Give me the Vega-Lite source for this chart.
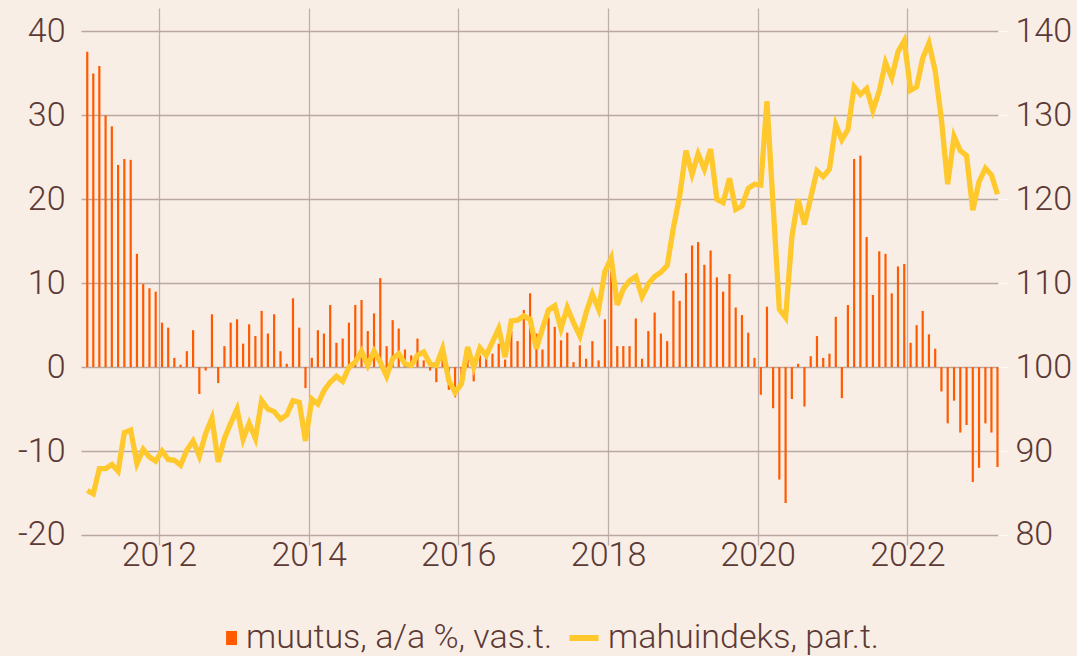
{
  "$schema": "https://vega.github.io/schema/vega-lite/v6.json",
  "width": 917,
  "height": 537,
  "autosize": {"type": "none"},
  "padding": {"left": 81, "top": 8, "right": 79, "bottom": 111},
  "background": "#f9eee5",
  "config": {
    "view": {"stroke": null},
    "font": "Roboto",
    "axis": {
      "labelFont": "Roboto",
      "labelFontWeight": 300,
      "labelFontSize": 34,
      "labelColor": "#5c3a36",
      "domain": false,
      "ticks": false,
      "title": null,
      "gridColor": "#b9a8a2",
      "gridWidth": 1.3,
      "gridOpacity": 1
    }
  },
  "data": {
    "values": [
      {"date": "2011-01", "muutus": 37.6, "mahuindeks": 85.3},
      {"date": "2011-02", "muutus": 35.0, "mahuindeks": 84.9},
      {"date": "2011-03", "muutus": 35.9, "mahuindeks": 87.9},
      {"date": "2011-04", "muutus": 30.0, "mahuindeks": 87.9},
      {"date": "2011-05", "muutus": 28.7, "mahuindeks": 88.4},
      {"date": "2011-06", "muutus": 24.1, "mahuindeks": 87.6},
      {"date": "2011-07", "muutus": 24.8, "mahuindeks": 92.2},
      {"date": "2011-08", "muutus": 24.7, "mahuindeks": 92.5},
      {"date": "2011-09", "muutus": 13.5, "mahuindeks": 88.5},
      {"date": "2011-10", "muutus": 9.9, "mahuindeks": 90.2},
      {"date": "2011-11", "muutus": 9.4, "mahuindeks": 89.3},
      {"date": "2011-12", "muutus": 9.0, "mahuindeks": 88.8},
      {"date": "2012-01", "muutus": 5.3, "mahuindeks": 90.0},
      {"date": "2012-02", "muutus": 4.7, "mahuindeks": 89.0},
      {"date": "2012-03", "muutus": 1.1, "mahuindeks": 88.9},
      {"date": "2012-04", "muutus": 0.3, "mahuindeks": 88.3},
      {"date": "2012-05", "muutus": 1.9, "mahuindeks": 90.1},
      {"date": "2012-06", "muutus": 4.4, "mahuindeks": 91.2},
      {"date": "2012-07", "muutus": -3.2, "mahuindeks": 89.4},
      {"date": "2012-08", "muutus": -0.4, "mahuindeks": 92.1},
      {"date": "2012-09", "muutus": 6.3, "mahuindeks": 93.9},
      {"date": "2012-10", "muutus": -1.9, "mahuindeks": 88.7},
      {"date": "2012-11", "muutus": 2.5, "mahuindeks": 91.5},
      {"date": "2012-12", "muutus": 5.3, "mahuindeks": 93.3},
      {"date": "2013-01", "muutus": 5.7, "mahuindeks": 95.0},
      {"date": "2013-02", "muutus": 2.8, "mahuindeks": 91.4},
      {"date": "2013-03", "muutus": 5.1, "mahuindeks": 93.3},
      {"date": "2013-04", "muutus": 3.7, "mahuindeks": 91.5},
      {"date": "2013-05", "muutus": 6.7, "mahuindeks": 96.0},
      {"date": "2013-06", "muutus": 4.0, "mahuindeks": 95.0},
      {"date": "2013-07", "muutus": 6.3, "mahuindeks": 94.7},
      {"date": "2013-08", "muutus": 1.9, "mahuindeks": 93.8},
      {"date": "2013-09", "muutus": 0.4, "mahuindeks": 94.3},
      {"date": "2013-10", "muutus": 8.2, "mahuindeks": 96.0},
      {"date": "2013-11", "muutus": 4.7, "mahuindeks": 95.8},
      {"date": "2013-12", "muutus": -2.5, "mahuindeks": 91.2},
      {"date": "2014-01", "muutus": 1.1, "mahuindeks": 96.2},
      {"date": "2014-02", "muutus": 4.4, "mahuindeks": 95.6},
      {"date": "2014-03", "muutus": 4.0, "mahuindeks": 97.2},
      {"date": "2014-04", "muutus": 7.4, "mahuindeks": 98.2},
      {"date": "2014-05", "muutus": 2.9, "mahuindeks": 98.9},
      {"date": "2014-06", "muutus": 3.4, "mahuindeks": 98.3},
      {"date": "2014-07", "muutus": 5.3, "mahuindeks": 100.0},
      {"date": "2014-08", "muutus": 7.4, "mahuindeks": 100.6},
      {"date": "2014-09", "muutus": 8.0, "mahuindeks": 101.9},
      {"date": "2014-10", "muutus": 4.3, "mahuindeks": 100.2},
      {"date": "2014-11", "muutus": 6.4, "mahuindeks": 101.9},
      {"date": "2014-12", "muutus": 10.6, "mahuindeks": 100.6},
      {"date": "2015-01", "muutus": 2.5, "mahuindeks": 98.9},
      {"date": "2015-02", "muutus": 5.6, "mahuindeks": 101.0},
      {"date": "2015-03", "muutus": 4.6, "mahuindeks": 101.6},
      {"date": "2015-04", "muutus": 2.1, "mahuindeks": 100.4},
      {"date": "2015-05", "muutus": 1.4, "mahuindeks": 100.2},
      {"date": "2015-06", "muutus": 3.4, "mahuindeks": 101.4},
      {"date": "2015-07", "muutus": 0.8, "mahuindeks": 101.8},
      {"date": "2015-08", "muutus": -0.4, "mahuindeks": 100.4},
      {"date": "2015-09", "muutus": -1.8, "mahuindeks": 100.2},
      {"date": "2015-10", "muutus": 1.2, "mahuindeks": 102.2},
      {"date": "2015-11", "muutus": -2.7, "mahuindeks": 98.4},
      {"date": "2015-12", "muutus": -3.6, "mahuindeks": 97.0},
      {"date": "2016-01", "muutus": -1.0, "mahuindeks": 98.0},
      {"date": "2016-02", "muutus": 2.0, "mahuindeks": 102.4},
      {"date": "2016-03", "muutus": -1.7, "mahuindeks": 100.0},
      {"date": "2016-04", "muutus": 1.4, "mahuindeks": 102.3},
      {"date": "2016-05", "muutus": 1.2, "mahuindeks": 101.4},
      {"date": "2016-06", "muutus": 1.6, "mahuindeks": 103.0},
      {"date": "2016-07", "muutus": 2.8, "mahuindeks": 104.6},
      {"date": "2016-08", "muutus": 0.9, "mahuindeks": 101.2},
      {"date": "2016-09", "muutus": 4.3, "mahuindeks": 105.5},
      {"date": "2016-10", "muutus": 3.1, "mahuindeks": 105.6},
      {"date": "2016-11", "muutus": 6.8, "mahuindeks": 106.1},
      {"date": "2016-12", "muutus": 8.8, "mahuindeks": 105.7},
      {"date": "2017-01", "muutus": 4.0, "mahuindeks": 102.2},
      {"date": "2017-02", "muutus": 2.1, "mahuindeks": 104.6},
      {"date": "2017-03", "muutus": 5.9, "mahuindeks": 106.8},
      {"date": "2017-04", "muutus": 4.8, "mahuindeks": 107.3},
      {"date": "2017-05", "muutus": 3.2, "mahuindeks": 104.6},
      {"date": "2017-06", "muutus": 4.1, "mahuindeks": 107.1},
      {"date": "2017-07", "muutus": 0.6, "mahuindeks": 105.3},
      {"date": "2017-08", "muutus": 2.6, "mahuindeks": 103.7},
      {"date": "2017-09", "muutus": 1.0, "mahuindeks": 106.5},
      {"date": "2017-10", "muutus": 3.1, "mahuindeks": 108.7},
      {"date": "2017-11", "muutus": 0.8, "mahuindeks": 106.9},
      {"date": "2017-12", "muutus": 5.7, "mahuindeks": 111.4},
      {"date": "2018-01", "muutus": 11.5, "mahuindeks": 113.0},
      {"date": "2018-02", "muutus": 2.5, "mahuindeks": 107.4},
      {"date": "2018-03", "muutus": 2.5, "mahuindeks": 109.3},
      {"date": "2018-04", "muutus": 2.5, "mahuindeks": 110.3},
      {"date": "2018-05", "muutus": 5.8, "mahuindeks": 110.8},
      {"date": "2018-06", "muutus": 1.0, "mahuindeks": 108.4},
      {"date": "2018-07", "muutus": 4.3, "mahuindeks": 109.9},
      {"date": "2018-08", "muutus": 6.5, "mahuindeks": 110.8},
      {"date": "2018-09", "muutus": 4.0, "mahuindeks": 111.3},
      {"date": "2018-10", "muutus": 3.1, "mahuindeks": 112.1},
      {"date": "2018-11", "muutus": 9.1, "mahuindeks": 116.6},
      {"date": "2018-12", "muutus": 7.9, "mahuindeks": 120.4},
      {"date": "2019-01", "muutus": 11.2, "mahuindeks": 125.8},
      {"date": "2019-02", "muutus": 14.5, "mahuindeks": 123.0},
      {"date": "2019-03", "muutus": 14.9, "mahuindeks": 125.4},
      {"date": "2019-04", "muutus": 12.2, "mahuindeks": 123.6},
      {"date": "2019-05", "muutus": 13.9, "mahuindeks": 126.0},
      {"date": "2019-06", "muutus": 10.7, "mahuindeks": 120.0},
      {"date": "2019-07", "muutus": 9.0, "mahuindeks": 119.6},
      {"date": "2019-08", "muutus": 11.1, "mahuindeks": 122.5},
      {"date": "2019-09", "muutus": 7.1, "mahuindeks": 118.8},
      {"date": "2019-10", "muutus": 6.2, "mahuindeks": 119.2},
      {"date": "2019-11", "muutus": 4.1, "mahuindeks": 121.3},
      {"date": "2019-12", "muutus": 1.1, "mahuindeks": 121.8},
      {"date": "2020-01", "muutus": -3.3, "mahuindeks": 121.7},
      {"date": "2020-02", "muutus": 7.2, "mahuindeks": 131.7},
      {"date": "2020-03", "muutus": -4.9, "mahuindeks": 119.3},
      {"date": "2020-04", "muutus": -13.4, "mahuindeks": 106.9},
      {"date": "2020-05", "muutus": -16.2, "mahuindeks": 105.9},
      {"date": "2020-06", "muutus": -3.8, "mahuindeks": 115.5},
      {"date": "2020-07", "muutus": 0.4, "mahuindeks": 120.0},
      {"date": "2020-08", "muutus": -4.7, "mahuindeks": 117.0},
      {"date": "2020-09", "muutus": 1.3, "mahuindeks": 120.2},
      {"date": "2020-10", "muutus": 3.7, "mahuindeks": 123.4},
      {"date": "2020-11", "muutus": 1.1, "mahuindeks": 122.7},
      {"date": "2020-12", "muutus": 1.6, "mahuindeks": 123.6},
      {"date": "2021-01", "muutus": 6.0, "mahuindeks": 128.9},
      {"date": "2021-02", "muutus": -3.7, "mahuindeks": 127.1},
      {"date": "2021-03", "muutus": 7.4, "mahuindeks": 128.3},
      {"date": "2021-04", "muutus": 24.8, "mahuindeks": 133.4},
      {"date": "2021-05", "muutus": 25.2, "mahuindeks": 132.5},
      {"date": "2021-06", "muutus": 15.5, "mahuindeks": 133.2},
      {"date": "2021-07", "muutus": 8.6, "mahuindeks": 130.6},
      {"date": "2021-08", "muutus": 13.8, "mahuindeks": 132.9},
      {"date": "2021-09", "muutus": 13.5, "mahuindeks": 136.3},
      {"date": "2021-10", "muutus": 8.8, "mahuindeks": 134.5},
      {"date": "2021-11", "muutus": 12.0, "mahuindeks": 137.6},
      {"date": "2021-12", "muutus": 12.3, "mahuindeks": 138.9},
      {"date": "2022-01", "muutus": 2.9, "mahuindeks": 133.0},
      {"date": "2022-02", "muutus": 5.0, "mahuindeks": 133.4},
      {"date": "2022-03", "muutus": 6.7, "mahuindeks": 136.8},
      {"date": "2022-04", "muutus": 3.9, "mahuindeks": 138.6},
      {"date": "2022-05", "muutus": 2.2, "mahuindeks": 135.3},
      {"date": "2022-06", "muutus": -2.9, "mahuindeks": 129.5},
      {"date": "2022-07", "muutus": -6.7, "mahuindeks": 121.8},
      {"date": "2022-08", "muutus": -4.0, "mahuindeks": 127.5},
      {"date": "2022-09", "muutus": -7.8, "mahuindeks": 125.8},
      {"date": "2022-10", "muutus": -6.9, "mahuindeks": 125.2},
      {"date": "2022-11", "muutus": -13.7, "mahuindeks": 118.7},
      {"date": "2022-12", "muutus": -12.0, "mahuindeks": 122.1},
      {"date": "2023-01", "muutus": -6.7, "mahuindeks": 123.7},
      {"date": "2023-02", "muutus": -7.8, "mahuindeks": 122.9},
      {"date": "2023-03", "muutus": -11.9, "mahuindeks": 120.6}
    ]
  },
  "layer": [
    {
      "mark": {"type": "rule", "strokeWidth": 2.2},
      "encoding": {
        "x": {
          "field": "date",
          "timeUnit": "utcyearmonth",
          "type": "temporal",
          "bandPosition": 0.5,
          "scale": {"domain": [
            {"year": 2010, "month": 12, "date": 17, "utc": true},
            {"year": 2023, "month": 3, "date": 19, "utc": true}
          ]},
          "axis": {
            "values": [
              {"year": 2012, "month": 1, "date": 1, "utc": true},
              {"year": 2014, "month": 1, "date": 1, "utc": true},
              {"year": 2016, "month": 1, "date": 1, "utc": true},
              {"year": 2018, "month": 1, "date": 1, "utc": true},
              {"year": 2020, "month": 1, "date": 1, "utc": true},
              {"year": 2022, "month": 1, "date": 1, "utc": true}
            ],
            "format": "%Y",
            "grid": true,
            "gridColor": "#c0afa9",
            "labelPadding": -7,
            "labelFlush": false,
            "labelOverlap": false
          }
        },
        "y": {
          "field": "muutus",
          "type": "quantitative",
          "scale": {"domain": [-21.2, 42.8], "nice": false, "zero": false},
          "axis": {
            "orient": "left",
            "values": [-20, -10, 0, 10, 20, 30, 40],
            "grid": true,
            "labelPadding": 16,
            "labelExpr": "datum.value < 0 ? '-' + abs(datum.value) : '' + datum.value"
          }
        },
        "y2": {"datum": 0},
        "color": {
          "datum": "muutus, a/a %, vas.t.",
          "type": "nominal",
          "scale": {"domain": ["muutus, a/a %, vas.t.", "mahuindeks, par.t."], "range": ["#ff5a00", "#ffc82c"]},
          "legend": {
            "orient": "none",
            "direction": "horizontal",
            "legendX": 124,
            "legendY": 613,
            "title": null,
            "labelFont": "Roboto",
            "labelFontWeight": 300,
            "labelFontSize": 34,
            "labelColor": "#5c3a36",
            "labelLimit": 0,
            "labelOffset": 7,
            "columnPadding": 14,
            "symbolSize": 900,
            "encode": {
              "symbols": {
                "update": {
                  "shape": {"signal": "datum.value === 'muutus, a/a %, vas.t.' ? 'M0.27,-0.47H1V0.47H0.27Z' : 'M-0.97,-0.2H0.97V0.2H-0.97Z'"},
                  "size": {"value": 900},
                  "fill": {"signal": "datum.value === 'muutus, a/a %, vas.t.' ? '#ff5a00' : '#ffc82c'"},
                  "stroke": {"value": "transparent"},
                  "strokeWidth": {"value": 0},
                  "opacity": {"value": 1}
                }
              }
            }
          }
        }
      }
    },
    {
      "mark": {"type": "line", "strokeWidth": 5.3},
      "encoding": {
        "x": {"field": "date", "timeUnit": "utcyearmonth", "type": "temporal", "bandPosition": 0.5},
        "y": {
          "field": "mahuindeks",
          "type": "quantitative",
          "scale": {"domain": [78.8, 142.8], "nice": false, "zero": false},
          "axis": {"orient": "right", "values": [80, 90, 100, 110, 120, 130, 140], "grid": false, "ticks": true, "tickSize": 10, "tickColor": "#fdf9f6", "tickWidth": 1.3, "labelPadding": 7}
        },
        "color": {"datum": "mahuindeks, par.t.", "type": "nominal"}
      }
    }
  ],
  "resolve": {"scale": {"y": "independent"}}
}
